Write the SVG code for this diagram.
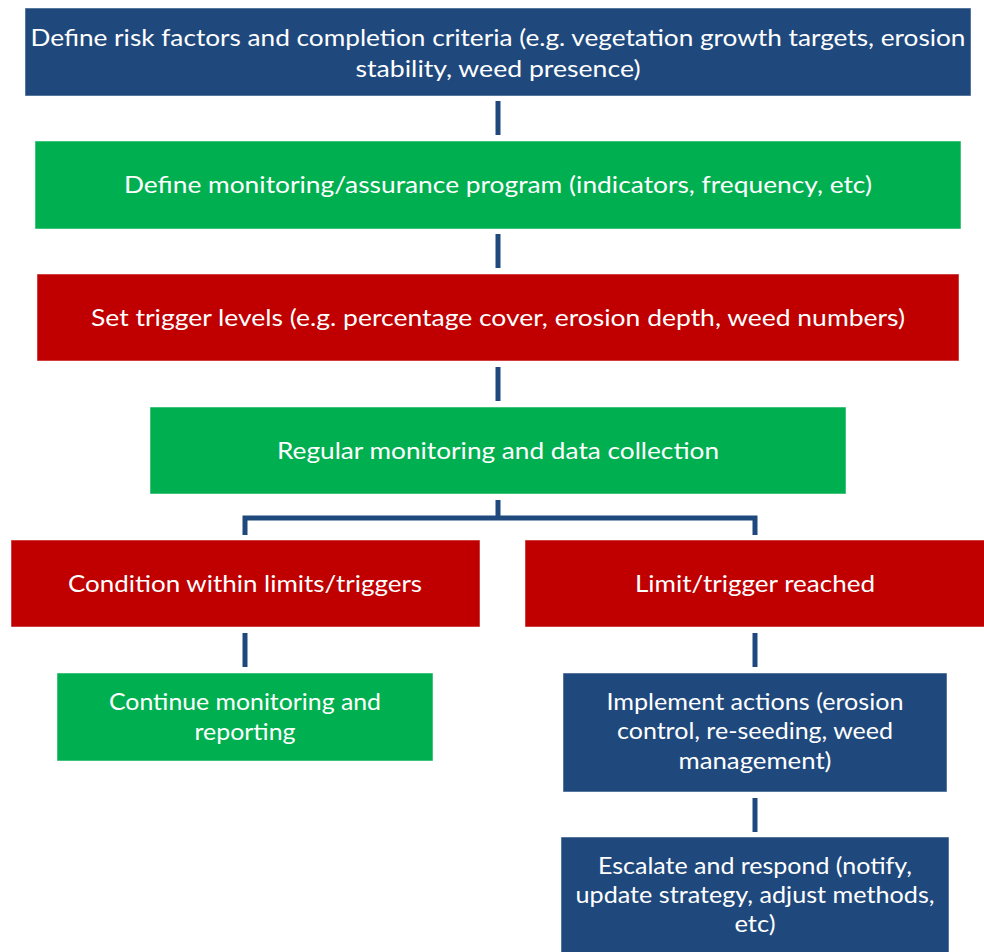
<svg xmlns="http://www.w3.org/2000/svg" width="984" height="952" viewBox="0 0 984 952">
<style>
.blue{fill:#1F497D}
.green{fill:#00B050}
.red{fill:#C00000}
.box{stroke:#ffffff;stroke-opacity:0.5;stroke-width:1}
text{font-family:Lato,"Open Sans","Liberation Sans",sans-serif;font-size:24px;fill:#ffffff;text-anchor:middle}
.conn{fill:none;stroke:#1F497D;stroke-width:5;stroke-linejoin:miter}
</style>
<rect width="984" height="952" fill="#ffffff"/>
<g id="connectors">
<line class="conn" x1="498" y1="101" x2="498" y2="135"/>
<line class="conn" x1="498" y1="234" x2="498" y2="268"/>
<line class="conn" x1="498" y1="367" x2="498" y2="401"/>
<path class="conn" d="M498,500 V518 M245,535 V518 H755 V535"/>
<line class="conn" x1="245" y1="633" x2="245" y2="667"/>
<line class="conn" x1="755" y1="633" x2="755" y2="667"/>
<line class="conn" x1="755" y1="798" x2="755" y2="832"/>
</g>
<g id="n1">
<rect class="blue box" x="25" y="8" width="946" height="88"/>
<text x="498" y="46" textLength="935" lengthAdjust="spacingAndGlyphs">Define risk factors and completion criteria (e.g. vegetation growth targets, erosion</text>
<text x="498" y="77" textLength="285" lengthAdjust="spacingAndGlyphs">stability, weed presence)</text>
</g>
<g id="n2">
<rect class="green box" x="35" y="141" width="926" height="88"/>
<text x="498" y="193" textLength="748" lengthAdjust="spacingAndGlyphs">Define monitoring/assurance program (indicators, frequency, etc)</text>
</g>
<g id="n3">
<rect class="red box" x="37" y="274" width="922" height="87"/>
<text x="498" y="326" textLength="814" lengthAdjust="spacingAndGlyphs">Set trigger levels (e.g. percentage cover, erosion depth, weed numbers)</text>
</g>
<g id="n4">
<rect class="green box" x="150" y="407" width="696" height="87"/>
<text x="498" y="459" textLength="442" lengthAdjust="spacingAndGlyphs">Regular monitoring and data collection</text>
</g>
<g id="n5">
<rect class="red box" x="11" y="540" width="469" height="87"/>
<text x="245" y="592" textLength="354" lengthAdjust="spacingAndGlyphs">Condition within limits/triggers</text>
</g>
<g id="n6">
<rect class="red box" x="525" y="540" width="462" height="87"/>
<text x="755" y="592" textLength="240" lengthAdjust="spacingAndGlyphs">Limit/trigger reached</text>
</g>
<g id="n7">
<rect class="green box" x="57" y="673" width="376" height="88"/>
<text x="245" y="710" textLength="272" lengthAdjust="spacingAndGlyphs">Continue monitoring and</text>
<text x="245" y="740" textLength="101" lengthAdjust="spacingAndGlyphs">reporting</text>
</g>
<g id="n8">
<rect class="blue box" x="563" y="673" width="384" height="119"/>
<text x="755" y="710" textLength="297" lengthAdjust="spacingAndGlyphs">Implement actions (erosion</text>
<text x="755" y="739" textLength="276" lengthAdjust="spacingAndGlyphs">control, re-seeding, weed</text>
<text x="755" y="769" textLength="153" lengthAdjust="spacingAndGlyphs">management)</text>
</g>
<g id="n9">
<rect class="blue box" x="561" y="837" width="388" height="118"/>
<text x="755" y="874" textLength="314" lengthAdjust="spacingAndGlyphs">Escalate and respond (notify,</text>
<text x="755" y="903" textLength="359" lengthAdjust="spacingAndGlyphs">update strategy, adjust methods,</text>
<text x="755" y="932" textLength="41" lengthAdjust="spacingAndGlyphs">etc)</text>
</g>
</svg>
